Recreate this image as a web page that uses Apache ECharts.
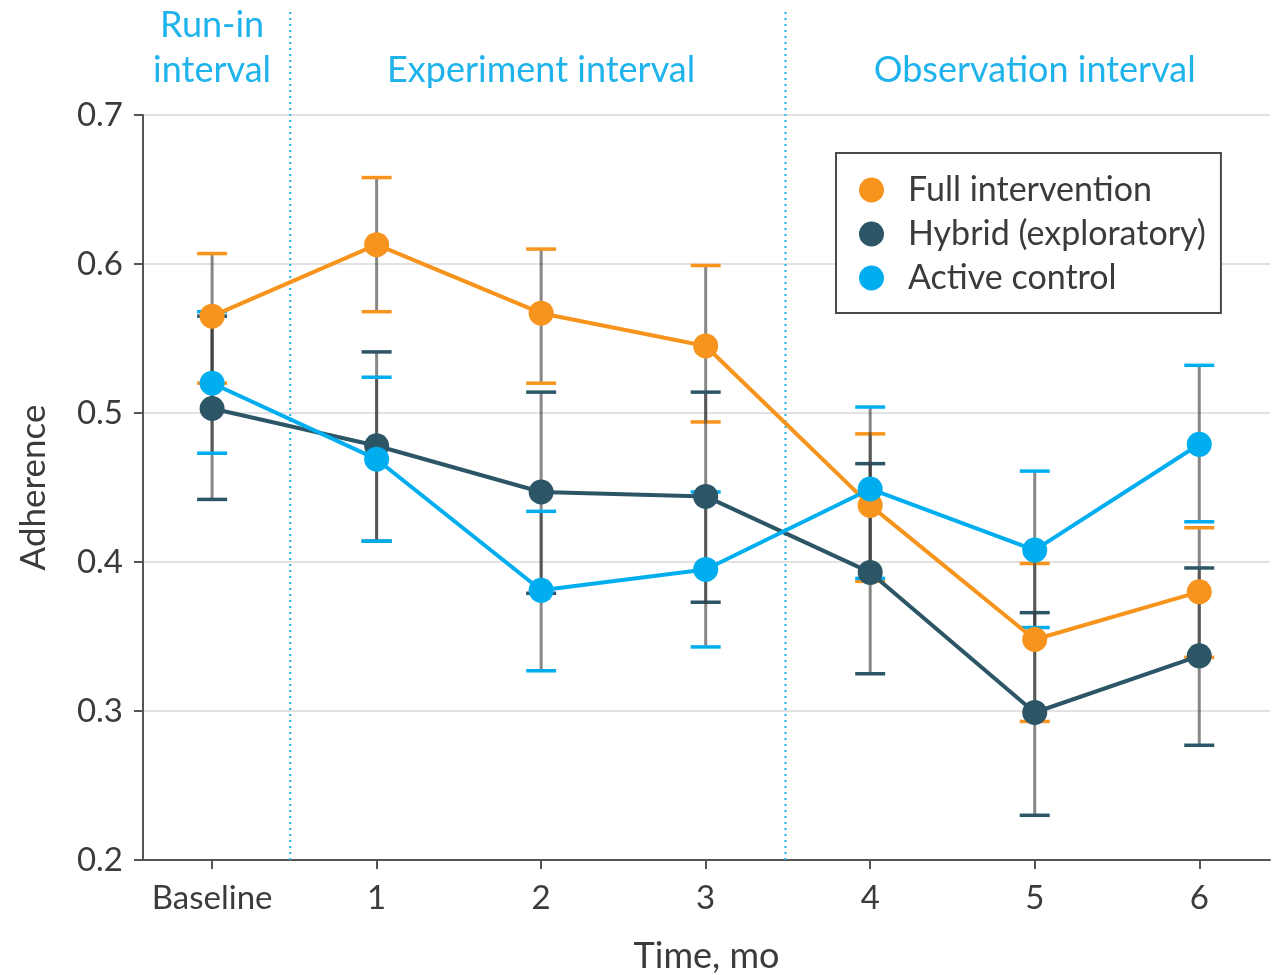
<!DOCTYPE html>
<html>
<head>
<meta charset="utf-8">
<script src="https://cdn.jsdelivr.net/npm/echarts@6/dist/echarts.min.js"></script>
<style>
  html, body { margin: 0; padding: 0; background: #fff; }
  #chart { width: 1281px; height: 975px; }
</style>
</head>
<body>
<div id="chart"></div>
<script>
// Time points (months since baseline)
const timeLabels = ['Baseline', '1', '2', '3', '4', '5', '6'];
const timePoints = [0, 1, 2, 3, 4, 5, 6];

// Mean adherence with 95% CI per group
const fullMean = [0.565, 0.613, 0.567, 0.545, 0.438, 0.348, 0.380];
const fullLow  = [0.520, 0.568, 0.520, 0.494, 0.387, 0.293, 0.336];
const fullHigh = [0.607, 0.658, 0.610, 0.599, 0.486, 0.399, 0.423];

const hybridMean = [0.503, 0.478, 0.447, 0.444, 0.393, 0.299, 0.337];
const hybridLow  = [0.442, 0.414, 0.379, 0.373, 0.325, 0.230, 0.277];
const hybridHigh = [0.565, 0.541, 0.514, 0.514, 0.466, 0.366, 0.396];

const controlMean = [0.520, 0.469, 0.381, 0.395, 0.449, 0.408, 0.479];
const controlLow  = [0.473, 0.414, 0.327, 0.343, 0.389, 0.356, 0.427];
const controlHigh = [0.568, 0.524, 0.434, 0.447, 0.504, 0.461, 0.532];

const groupNames = ['Full intervention', 'Hybrid (exploratory)', 'Active control'];

// Study phases: boundaries and heading positions on the time axis
const phaseBoundaries = [0.475, 3.485];
const phaseTitles = ['Run-in\ninterval', 'Experiment interval', 'Observation interval'];
const phaseCenters = [0, 2, 5];

const yTicks = [0.2, 0.3, 0.4, 0.5, 0.6, 0.7];

const colors = ['#f7941d', '#2c5666', '#00aeef'];
const FONT = 'Lato';
const TEXT = '#3b3b3b';
const ACCENT = '#1fb3ec';

const chart = echarts.init(document.getElementById('chart'), null, { renderer: 'canvas' });

function pairs(vals) { return timePoints.map((t, i) => [t, vals[i]]); }
function ciData(lo, hi) { return timePoints.map((t, i) => [t, lo[i], hi[i]]); }

function errorSeries(name, lo, hi, color) {
  return {
    type: 'custom',
    name: name + ' CI',
    z: 2,
    silent: true,
    data: ciData(lo, hi),
    renderItem: function (params, api) {
      const x = api.value(0);
      const pLo = api.coord([x, api.value(1)]);
      const pHi = api.coord([x, api.value(2)]);
      const half = 15;
      return {
        type: 'group',
        children: [
          { type: 'line', shape: { x1: pLo[0], y1: pLo[1], x2: pHi[0], y2: pHi[1] },
            style: { stroke: 'rgba(55,55,55,0.6)', lineWidth: 3 } },
          { type: 'line', shape: { x1: pLo[0] - half, y1: pLo[1], x2: pLo[0] + half, y2: pLo[1] },
            style: { stroke: color, lineWidth: 3.5 } },
          { type: 'line', shape: { x1: pHi[0] - half, y1: pHi[1], x2: pHi[0] + half, y2: pHi[1] },
            style: { stroke: color, lineWidth: 3.5 } }
        ]
      };
    }
  };
}

function lineSeries(name, mean, color, z) {
  return {
    type: 'line',
    name: name,
    z: z,
    data: pairs(mean),
    symbol: 'circle',
    symbolSize: 25,
    itemStyle: { color: color },
    lineStyle: { color: color, width: 4 },
    emphasis: { disabled: true }
  };
}

const option = {
  animation: false,
  backgroundColor: '#ffffff',
  textStyle: { fontFamily: FONT },
  grid: { left: 143, right: 11, top: 115, bottom: 115, containLabel: false, outerBoundsMode: 'none' },
  legend: {
    data: groupNames,
    orient: 'vertical',
    left: 836,
    top: 153,
    icon: 'circle',
    itemWidth: 25,
    itemHeight: 25,
    itemGap: 10,
    padding: [20, 15, 18, 23],
    borderColor: '#4a4a4a',
    borderWidth: 2,
    backgroundColor: '#ffffff',
    selectedMode: false,
    textStyle: { fontFamily: FONT, fontSize: 34, color: TEXT, padding: [0, 0, 0, 19] }
  },
  xAxis: {
    type: 'value',
    min: -0.42,
    max: 6.43,
    name: 'Time, mo',
    nameLocation: 'middle',
    nameGap: 78,
    nameTextStyle: { fontFamily: FONT, fontSize: 36, color: TEXT },
    axisLine: { onZero: false, lineStyle: { color: '#555', width: 2 } },
    axisTick: { show: true, customValues: timePoints, length: 9, lineStyle: { color: '#555', width: 2 } },
    axisLabel: {
      customValues: timePoints,
      margin: 22,
      fontFamily: FONT, fontSize: 33, color: TEXT,
      formatter: function (v) { return timeLabels[timePoints.indexOf(Math.round(v))]; }
    },
    splitLine: { show: false }
  },
  yAxis: {
    type: 'value',
    min: 0.2,
    max: 0.7,
    name: 'Adherence',
    nameLocation: 'middle',
    nameGap: 92,
    nameTextStyle: { fontFamily: FONT, fontSize: 35, color: TEXT },
    axisLine: { show: true, onZero: false, lineStyle: { color: '#555', width: 2 } },
    axisTick: { show: true, customValues: yTicks, length: 9, lineStyle: { color: '#555', width: 2 } },
    axisLabel: {
      customValues: yTicks,
      margin: 20,
      fontFamily: FONT, fontSize: 33, color: TEXT,
      formatter: function (v) { return v.toFixed(1); }
    },
    splitLine: { show: true, lineStyle: { color: '#e2e2e2', width: 2 } }
  },
  series: [
    // phase separators, running up into the heading band
    {
      type: 'custom',
      name: 'phases',
      z: 1,
      silent: true,
      clip: false,
      data: phaseBoundaries.map(v => [v]),
      renderItem: function (params, api) {
        const bottom = api.coord([api.value(0), 0.2]);
        const top = api.coord([api.value(0), 0.7]);
        return {
          type: 'line',
          shape: { x1: bottom[0], y1: bottom[1], x2: top[0], y2: top[1] - 107 },
          style: { stroke: ACCENT, lineWidth: 2, lineDash: [2, 4] }
        };
      }
    },
    // phase headings
    {
      type: 'custom',
      name: 'phase titles',
      z: 1,
      silent: true,
      clip: false,
      data: phaseCenters.map((v, i) => [v, i]),
      renderItem: function (params, api) {
        const p = api.coord([api.value(0), 0.7]);
        return {
          type: 'text',
          x: p[0],
          y: p[1] - 22,
          style: {
            text: phaseTitles[api.value(1)],
            fill: ACCENT,
            font: '36px ' + FONT,
            lineHeight: 45,
            align: 'center',
            verticalAlign: 'bottom'
          }
        };
      }
    },
    errorSeries(groupNames[0], fullLow, fullHigh, colors[0]),
    errorSeries(groupNames[1], hybridLow, hybridHigh, colors[1]),
    errorSeries(groupNames[2], controlLow, controlHigh, colors[2]),
    lineSeries(groupNames[0], fullMean, colors[0], 3),
    lineSeries(groupNames[1], hybridMean, colors[1], 4),
    lineSeries(groupNames[2], controlMean, colors[2], 5)
  ]
};

chart.setOption(option);
</script>
</body>
</html>
